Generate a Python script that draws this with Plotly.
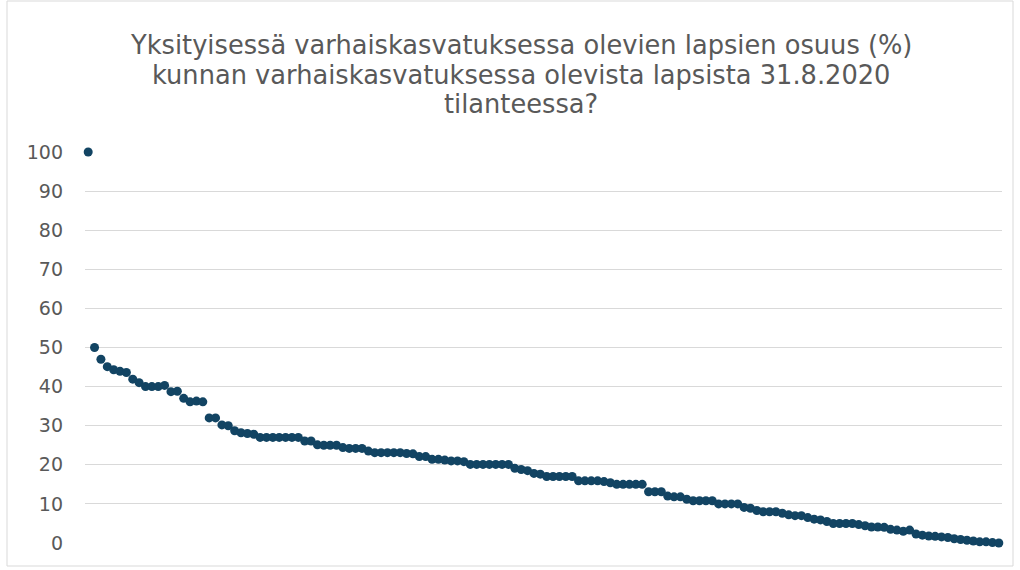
import plotly.graph_objects as go

title_lines = [
    "Yksityisessä varhaiskasvatuksessa olevien lapsien osuus (%)",
    "kunnan varhaiskasvatuksessa olevista lapsista 31.8.2020",
    "tilanteessa?",
]

shares = [
    100, 50, 47, 45.1, 44.3, 43.9, 43.6, 41.9, 41, 40,
    40, 40, 40.3, 38.7, 38.8, 37, 36.1, 36.3, 36.1, 32,
    32, 30.2, 30, 28.7, 28.2, 28, 27.8, 27, 27, 27,
    27, 27, 27, 27, 26.1, 26.1, 25.1, 25, 25, 25,
    24.4, 24.2, 24.2, 24.2, 23.5, 23.1, 23.1, 23.1, 23.1, 23.1,
    22.9, 22.8, 22.1, 22.1, 21.4, 21.4, 21.2, 21.0, 21.0, 20.8,
    20.1, 20.1, 20.1, 20.1, 20.1, 20.1, 20.1, 19.1, 18.8, 18.5,
    17.8, 17.6, 17.0, 17.0, 17.0, 17.0, 17.0, 15.9, 15.9, 15.9,
    15.9, 15.7, 15.4, 15.0, 15.0, 15.0, 15.0, 15.0, 13.1, 13.1,
    13.1, 12.0, 11.8, 11.8, 11.2, 10.8, 10.8, 10.8, 10.8, 10.0,
    10.0, 10.0, 10.0, 9.1, 8.9, 8.3, 8.0, 8.0, 8.0, 7.6,
    7.2, 7.0, 7.0, 6.5, 6.1, 5.9, 5.5, 5.0, 5.0, 5.0,
    5.0, 4.7, 4.4, 4.1, 4.1, 4.0, 3.5, 3.3, 3.0, 3.3,
    2.3, 2.0, 1.8, 1.7, 1.55, 1.4, 1.1, 0.9, 0.7, 0.5,
    0.3, 0.3, 0.1, 0,
]
municipalities = list(range(len(shares)))

y_ticks = [0, 10, 20, 30, 40, 50, 60, 70, 80, 90, 100]

FONT = "DejaVu Sans"
GRAY = "#595959"

fig = go.Figure(
    go.Scatter(
        x=municipalities,
        y=shares,
        mode="markers",
        marker=dict(color="#124463", size=9, line=dict(width=0)),
        cliponaxis=False,
        hoverinfo="y",
    )
)

W, H = 1020, 570
ml, mr, mt, mb = 85, 18, 152, 27
pw, ph = W - ml - mr, H - mt - mb


def px_x(px):
    return (px - ml) / pw


def px_y(py):
    return (H - mb - py) / ph


title_centers_y = [45, 75, 104]
annotations = [
    dict(
        text=line,
        xref="paper",
        yref="paper",
        x=px_x(521),
        y=px_y(cy),
        xanchor="center",
        yanchor="middle",
        showarrow=False,
        font=dict(family=FONT, size=25.7, color=GRAY),
    )
    for line, cy in zip(title_lines, title_centers_y)
]

fig.update_layout(
    width=W,
    height=H,
    margin=dict(l=ml, r=mr, t=mt, b=mb),
    paper_bgcolor="white",
    plot_bgcolor="white",
    showlegend=False,
    annotations=annotations,
    xaxis=dict(
        range=[-0.5, len(shares) - 0.5],
        showgrid=False,
        zeroline=False,
        showticklabels=False,
        showline=False,
        ticks="",
    ),
    yaxis=dict(
        range=[0, 100],
        tickvals=y_ticks,
        showgrid=True,
        gridcolor="#D9D9D9",
        gridwidth=1.3,
        zeroline=False,
        showline=False,
        ticks="",
        ticklabelstandoff=21,
        tickfont=dict(family=FONT, size=19, color=GRAY),
    ),
    shapes=[
        dict(
            type="rect",
            xref="paper",
            yref="paper",
            x0=px_x(7),
            x1=px_x(1013),
            y0=px_y(566),
            y1=px_y(1),
            line=dict(color="#D9D9D9", width=1),
            fillcolor="rgba(0,0,0,0)",
            layer="below",
        )
    ],
)

fig.write_html(
    "out.html",
    config={"displayModeBar": False},
    post_script="document.body.style.margin='0';",
)
